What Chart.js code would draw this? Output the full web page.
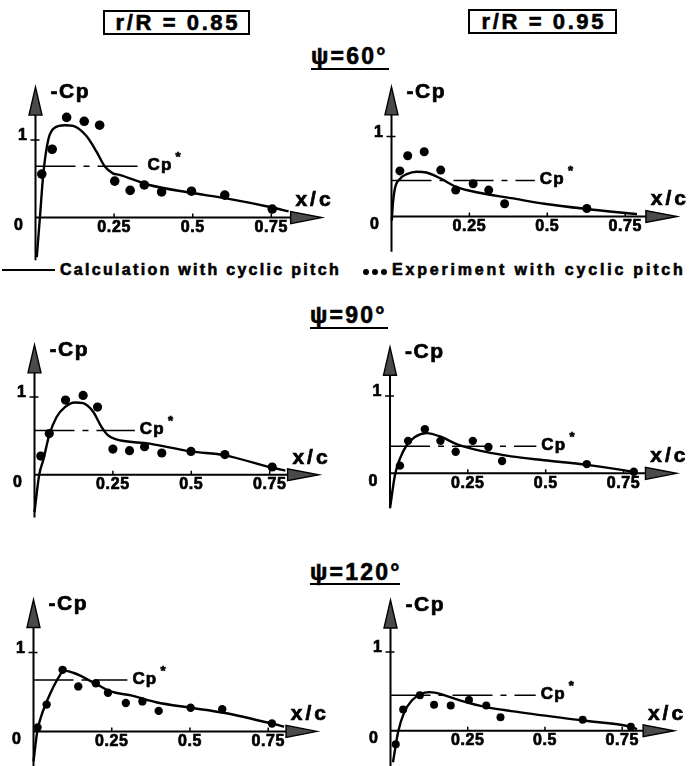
<!DOCTYPE html>
<html>
<head>
<meta charset="utf-8">
<script src="https://cdn.jsdelivr.net/npm/chart.js@4.4.1/dist/chart.umd.min.js"></script>
<style>
  html, body { margin:0; padding:0; background:#fff; }
  body { width:691px; height:766px; overflow:hidden; position:relative;
         font-family:"Liberation Sans", Arial, sans-serif; font-weight:bold; color:#000; }
  .t { position:absolute; white-space:nowrap; -webkit-text-stroke:0.6px #000; }
  .box { position:absolute; border:2px solid #000; box-sizing:border-box; -webkit-text-stroke:0.6px #000;
         display:flex; align-items:center; justify-content:center; white-space:nowrap; }
  .rule { position:absolute; background:#000; }
  .dot { position:absolute; width:6px; height:6px; border-radius:50%; background:#000; }
  canvas { position:absolute; }
</style>
</head>
<body>
<script>
// ---------------- tick labels ----------------
const xTickValues = [0.25, 0.5, 0.75];
const xTickLabels = ['0.25', '0.5', '0.75'];
const yTickValues = [0, 1];
const yTickLabels = ['0', '1'];

// ---------------- r/R = 0.85, psi = 60 ----------------
const exp60_85_x  = [0.020, 0.053, 0.099, 0.155, 0.204, 0.252, 0.301, 0.346, 0.401, 0.496, 0.602, 0.753];
const exp60_85_y  = [0.56, 0.88, 1.29, 1.24, 1.19, 0.47, 0.35, 0.42, 0.33, 0.34, 0.29, 0.11];
const calc60_85_x = [0.004, 0.014, 0.025, 0.041, 0.062, 0.093, 0.120, 0.162, 0.194, 0.220, 0.246, 0.267, 0.362, 0.494, 0.602, 0.753, 0.805];
const calc60_85_y = [-0.51, 0.00, 0.57, 1.01, 1.16, 1.19, 1.18, 1.05, 0.85, 0.66, 0.57, 0.55, 0.42, 0.32, 0.25, 0.13, 0.08];
const cpStar60_85 = [0.66, 0.34];   // [level, extent in x/c]

// ---------------- r/R = 0.95, psi = 60 ----------------
const exp60_95_x  = [0.027, 0.052, 0.105, 0.158, 0.206, 0.262, 0.312, 0.363, 0.627];
const exp60_95_y  = [0.57, 0.76, 0.81, 0.58, 0.33, 0.41, 0.33, 0.16, 0.10];
const calc60_95_x = [0.001, 0.004, 0.011, 0.027, 0.049, 0.081, 0.112, 0.160, 0.208, 0.277, 0.384, 0.490, 0.627, 0.788];
const calc60_95_y = [-0.05, 0.14, 0.35, 0.47, 0.53, 0.56, 0.55, 0.47, 0.37, 0.30, 0.23, 0.16, 0.094, 0.03];
const cpStar60_95 = [0.45, 0.46];

// ---------------- r/R = 0.85, psi = 90 ----------------
const exp90_85_x  = [0.020, 0.047, 0.099, 0.155, 0.201, 0.250, 0.303, 0.351, 0.406, 0.499, 0.607, 0.758];
const exp90_85_y  = [0.24, 0.53, 0.96, 1.02, 0.87, 0.33, 0.31, 0.36, 0.28, 0.30, 0.26, 0.10];
const calc90_85_x = [0.000, 0.015, 0.028, 0.047, 0.070, 0.097, 0.129, 0.155, 0.187, 0.213, 0.234, 0.256, 0.367, 0.499, 0.607, 0.758, 0.800];
const calc90_85_y = [-0.48, 0.00, 0.19, 0.51, 0.74, 0.87, 0.93, 0.92, 0.81, 0.62, 0.51, 0.46, 0.40, 0.30, 0.25, 0.09, 0.054];
const cpStar90_85 = [0.57, 0.32];

// ---------------- r/R = 0.95, psi = 90 ----------------
const exp90_95_x  = [0.032, 0.058, 0.112, 0.162, 0.211, 0.266, 0.316, 0.360, 0.632, 0.783];
const exp90_95_y  = [0.10, 0.42, 0.57, 0.42, 0.28, 0.42, 0.34, 0.16, 0.12, 0.02];
const calc90_95_x = [0.000, 0.016, 0.032, 0.053, 0.080, 0.117, 0.165, 0.218, 0.304, 0.389, 0.495, 0.632, 0.783];
const calc90_95_y = [-0.45, -0.02, 0.19, 0.36, 0.47, 0.52, 0.47, 0.37, 0.28, 0.22, 0.17, 0.11, 0.02];
const cpStar90_95 = [0.35, 0.47];

// ---------------- r/R = 0.85, psi = 120 ----------------
const exp120_85_x  = [0.013, 0.042, 0.093, 0.143, 0.199, 0.238, 0.295, 0.348, 0.400, 0.502, 0.603, 0.762];
const exp120_85_y  = [0.05, 0.34, 0.78, 0.57, 0.61, 0.49, 0.36, 0.38, 0.26, 0.30, 0.28, 0.10];
const calc120_85_x = [0.000, 0.012, 0.026, 0.042, 0.063, 0.084, 0.095, 0.201, 0.244, 0.318, 0.392, 0.502, 0.603, 0.762, 0.801];
const calc120_85_y = [-0.38, 0.00, 0.21, 0.375, 0.56, 0.71, 0.77, 0.60, 0.51, 0.45, 0.37, 0.30, 0.24, 0.10, 0.06];
const cpStar120_85 = [0.65, 0.30];

// ---------------- r/R = 0.95, psi = 120 ----------------
const exp120_95_x  = [0.017, 0.041, 0.095, 0.141, 0.195, 0.254, 0.310, 0.356, 0.622, 0.778];
const exp120_95_y  = [-0.17, 0.27, 0.45, 0.33, 0.32, 0.39, 0.32, 0.17, 0.14, 0.05];
const calc120_95_x = [0.008, 0.025, 0.045, 0.068, 0.095, 0.127, 0.176, 0.230, 0.310, 0.391, 0.622, 0.778, 0.798];
const calc120_95_y = [-0.40, -0.01, 0.24, 0.38, 0.46, 0.49, 0.45, 0.38, 0.30, 0.25, 0.13, 0.05, 0.02];
const cpStar120_95 = [0.45, 0.47];

// ---------------- text ----------------
const headerLabels = ['r/R = 0.85', 'r/R = 0.95'];
const psiLabels = ['\u03c8=60\u00b0', '\u03c8=90\u00b0', '\u03c8=120\u00b0'];
const legendLabels = ['Calculation with cyclic pitch', 'Experiment with cyclic pitch'];
const yAxisTitle = '-Cp';
const xAxisTitle = 'x/c';
const cpStarLabel = 'Cp';

// ================= layout (pixels, not data) =================
const FONT = '"Liberation Sans", Arial, sans-serif';
function addText(txt, left, baseline, fs, ls) {
  const el = document.createElement('div');
  el.className = 't';
  el.textContent = txt;
  el.style.fontSize = fs + 'px';
  el.style.lineHeight = fs + 'px';
  el.style.letterSpacing = ls + 'px';
  el.style.left = left + 'px';
  el.style.top = (baseline - 0.8465 * fs) + 'px';
  document.body.appendChild(el);
  return el;
}
function addRule(l, t, w, h) {
  const el = document.createElement('div');
  el.className = 'rule';
  Object.assign(el.style, {left: l + 'px', top: t + 'px', width: w + 'px', height: h + 'px'});
  document.body.appendChild(el);
}
function addBox(txt, l, t, w, h, fs, ls) {
  const el = document.createElement('div');
  el.className = 'box';
  Object.assign(el.style, {left: l + 'px', top: t + 'px', width: w + 'px', height: h + 'px',
    fontSize: fs + 'px', letterSpacing: ls + 'px', paddingLeft: ls + 'px'});
  el.textContent = txt;
  document.body.appendChild(el);
}

addBox(headerLabels[0], 103, 10, 147, 25, 22, 2.6);
addBox(headerLabels[1], 468, 9, 149, 25, 22, 2.6);

addText(psiLabels[0], 311, 64, 23, 2.2);
addRule(311, 68, 78, 2);
addText(psiLabels[1], 310, 323, 23, 2.2);
addRule(310, 327, 78, 2);
addText(psiLabels[2], 310, 580, 23, 2.2);
addRule(310, 583, 90, 2);

addRule(2, 269, 53, 2);
addText(legendLabels[0], 60, 276, 16, 2.3);
[363, 372, 381].forEach(x => {
  const d = document.createElement('div'); d.className = 'dot';
  d.style.left = x + 'px'; d.style.top = '269px'; document.body.appendChild(d);
});
addText(legendLabels[1], 392, 276, 16, 2.8);

// ================= chart panels =================
const X_MIN = 0, X_MAX = 0.95, Y_MIN = -0.6, Y_MAX = 1.8;

function arrowHead(ctx, tipX, tipY, dirX, dirY, len, half) {
  const bx = tipX - dirX * len, by = tipY - dirY * len;
  const px = -dirY, py = dirX;
  ctx.beginPath();
  ctx.moveTo(tipX, tipY);
  ctx.lineTo(bx + px * half, by + py * half);
  ctx.lineTo(bx - px * half, by - py * half);
  ctx.closePath();
  ctx.fillStyle = '#4a4a4a';
  ctx.fill();
  ctx.lineWidth = 1.4;
  ctx.strokeStyle = '#000';
  ctx.stroke();
}

function boldText(ctx, txt, x, y) {
  ctx.fillText(txt, x, y);
  ctx.strokeText(txt, x, y);
}

function makePanel(geo, ex, ey, cx, cy, cp, ptR) {
  const padL0 = 34, padT = 8, padR = 3, padB = 2;
  const left = Math.floor(geo.x0 - padL0);
  const padL = geo.x0 - left;
  const areaTop = geo.y0 - geo.sy * Y_MAX;
  const top = Math.floor(areaTop - padT);
  const padTop = areaTop - top;
  const w = Math.round(padL + geo.sx * (X_MAX - X_MIN) + padR);
  const h = Math.round(padTop + geo.sy * (Y_MAX - Y_MIN) + padB);
  const cv = document.createElement('canvas');
  cv.width = w; cv.height = h;
  cv.style.left = left + 'px'; cv.style.top = top + 'px';
  cv.style.width = w + 'px'; cv.style.height = h + 'px';
  document.body.appendChild(cv);

  const axesPlugin = {
    id: 'cpAxes',
    beforeDatasetsDraw(chart) {
      const ctx = chart.ctx, xs = chart.scales.x, ys = chart.scales.y;
      const px0 = xs.getPixelForValue(0), py0 = ys.getPixelForValue(0);
      const yTip = ys.getPixelForValue(geo.yTip), yBot = ys.getPixelForValue(geo.yBot);
      const xTip = xs.getPixelForValue(geo.xTip);
      ctx.save();
      ctx.strokeStyle = '#000';
      ctx.lineWidth = 2;
      ctx.beginPath();
      ctx.moveTo(px0, yBot); ctx.lineTo(px0, yTip + 8);
      ctx.moveTo(px0, py0); ctx.lineTo(xTip - 8, py0);
      ctx.stroke();
      // ticks
      ctx.lineWidth = 1.5;
      ctx.beginPath();
      xTickValues.forEach(v => { const p = xs.getPixelForValue(v); ctx.moveTo(p, py0); ctx.lineTo(p, py0 - 4); });
      yTickValues.forEach(v => { if (v !== 0) { const p = ys.getPixelForValue(v); ctx.moveTo(px0 - 5, p); ctx.lineTo(px0 + 4, p); } });
      ctx.stroke();
      arrowHead(ctx, px0, yTip, 0, -1, 28, 6.5);
      arrowHead(ctx, xTip, py0, 1, 0, 31, 6);
      // tick labels
      ctx.fillStyle = '#000';
      ctx.strokeStyle = '#000';
      ctx.lineWidth = 0.7;
      ctx.font = 'bold 16px ' + FONT;
      ctx.letterSpacing = '0.6px';
      ctx.textAlign = 'center';
      ctx.textBaseline = 'middle';
      xTickValues.forEach((v, i) => boldText(ctx, xTickLabels[i], xs.getPixelForValue(v), py0 + 10));
      ctx.textAlign = 'right';
      yTickValues.forEach((v, i) => {
        const p = ys.getPixelForValue(v);
        if (v === 0) boldText(ctx, yTickLabels[i], px0 - 12, p + 8);
        else boldText(ctx, yTickLabels[i], px0 - 8, p - 4);
      });
      // axis titles
      ctx.font = 'bold 21px ' + FONT;
      ctx.letterSpacing = '1.5px';
      ctx.textAlign = 'left';
      boldText(ctx, yAxisTitle, px0 + 15, yTip + 5);
      ctx.letterSpacing = '3px';
      ctx.textAlign = 'right';
      boldText(ctx, xAxisTitle, xTip + 12, py0 - 17);
      ctx.restore();
    },
    afterDatasetsDraw(chart) {
      const ctx = chart.ctx, xs = chart.scales.x, ys = chart.scales.y;
      const ex = xs.getPixelForValue(cp[1]), ey = ys.getPixelForValue(cp[0]);
      ctx.save();
      ctx.fillStyle = '#000';
      ctx.strokeStyle = '#000';
      ctx.lineWidth = 0.7;
      ctx.font = 'bold 17px ' + FONT;
      ctx.letterSpacing = '1.2px';
      ctx.textAlign = 'left';
      ctx.textBaseline = 'middle';
      boldText(ctx, cpStarLabel, ex + 5, ey - 1);
      const wCp = ctx.measureText(cpStarLabel).width;
      ctx.font = 'bold 13px ' + FONT;
      ctx.letterSpacing = '0px';
      boldText(ctx, '*', ex + 5 + wCp + 3, ey - 9);
      ctx.restore();
    }
  };

  new Chart(cv, {
    type: 'scatter',
    data: {
      datasets: [
        { type: 'scatter', data: ex.map((x, i) => ({x, y: ey[i]})),
          pointRadius: ptR, pointBackgroundColor: '#000', pointBorderColor: '#000', pointBorderWidth: 0,
          clip: false, order: 0 },
        { type: 'line', data: cx.map((x, i) => ({x, y: cy[i]})),
          borderColor: '#000', borderWidth: 2.4, pointRadius: 0, fill: false,
          cubicInterpolationMode: 'monotone', clip: false, order: 1 },
        { type: 'line', data: [{x: 0, y: cp[0]}, {x: cp[1], y: cp[0]}],
          borderColor: '#000', borderWidth: 1.5, pointRadius: 0, fill: false,
          borderDash: [40, 8, 6, 8], clip: false, order: 2 }
      ]
    },
    options: {
      responsive: false, animation: false, events: [],
      devicePixelRatio: 1,
      layout: { padding: { left: padL, top: padTop, right: padR, bottom: padB } },
      plugins: { legend: { display: false }, tooltip: { enabled: false } },
      scales: {
        x: { type: 'linear', min: X_MIN, max: X_MAX, display: false },
        y: { type: 'linear', min: Y_MIN, max: Y_MAX, display: false }
      }
    },
    plugins: [axesPlugin]
  });
}

makePanel({x0: 35.5, sx: 316, y0: 220,   sy: 79,   xTip: 0.910, yTip: 1.68, yBot: -0.55}, exp60_85_x, exp60_85_y, calc60_85_x, calc60_85_y, cpStar60_85, 4.8);
makePanel({x0: 391.5, sx: 313, y0: 218.3, sy: 81,  xTip: 0.916, yTip: 1.62, yBot: -0.44}, exp60_95_x, exp60_95_y, calc60_95_x, calc60_95_y, cpStar60_95, 4.5);
makePanel({x0: 34.5, sx: 315, y0: 477,   sy: 79,   xTip: 0.906, yTip: 1.67, yBot: -0.55}, exp90_85_x, exp90_85_y, calc90_85_x, calc90_85_y, cpStar90_85, 4.6);
makePanel({x0: 390, sx: 313, y0: 475,    sy: 78.3, xTip: 0.920, yTip: 1.63, yBot: -0.45}, exp90_95_x, exp90_95_y, calc90_95_x, calc90_95_y, cpStar90_95, 4.2);
makePanel({x0: 33.5, sx: 314, y0: 733.3, sy: 80,   xTip: 0.906, yTip: 1.67, yBot: -0.55}, exp120_85_x, exp120_85_y, calc120_85_x, calc120_85_y, cpStar120_85, 4.2);
makePanel({x0: 390.5, sx: 310, y0: 732.3, sy: 79.6, xTip: 0.918, yTip: 1.66, yBot: -0.55}, exp120_95_x, exp120_95_y, calc120_95_x, calc120_95_y, cpStar120_95, 4.0);
</script>
</body>
</html>
